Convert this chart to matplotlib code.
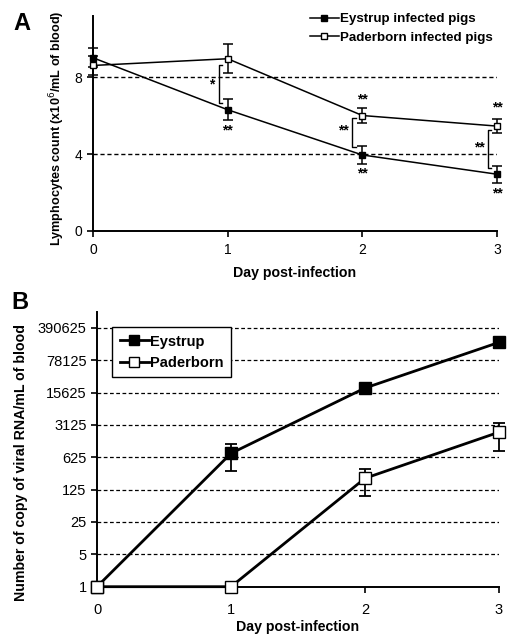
import matplotlib
matplotlib.use("Agg")
import matplotlib.pyplot as plt
from matplotlib.lines import Line2D
import numpy as np

plt.rcParams['font.family'] = ['Liberation Sans', 'DejaVu Sans']

# ---------------- data ----------------
days = [0, 1, 2, 3]

# Panel A: lymphocyte counts (x10^6/mL)
eystrup_lymph = [9.0, 6.3, 3.95, 2.95]
eystrup_lymph_err = [0.5, 0.55, 0.45, 0.45]
paderborn_lymph = [8.6, 8.95, 6.0, 5.45]
paderborn_lymph_err = [0.5, 0.75, 0.4, 0.35]
a_yticks = [0, 4, 8]

# significance annotations: (x, y, text)
sig_labels = [(0.88, 7.6, "*"), (1.0, 5.2, "**"), (2.0, 6.85, "**"), (1.86, 5.2, "**"),
              (2.0, 3.0, "**"), (3.0, 6.4, "**"), (2.87, 4.35, "**"), (3.0, 1.95, "**")]
# brackets: (x, y_top, y_bottom)
brackets = [(0.935, 8.6, 6.65), (1.925, 5.87, 4.36), (2.93, 5.25, 3.27)]

# Panel B: viral RNA copies / mL
eystrup_rna = [1, 760, 19600, 190000]
eystrup_rna_err = [0, 440, 4600, 47000]
paderborn_rna = [1, 1, 220, 2180]
paderborn_rna_err = [0, 0, 130, 1330]
b_yticks = [1, 5, 25, 125, 625, 3125, 15625, 78125, 390625]

# ---------------- figure ----------------
fig = plt.figure(figsize=(5.11, 6.36), dpi=100)

# ---- Panel A ----
axA = fig.add_axes([93/511, 1-231/636, (497-93)/511, (231-16)/636])
for vals, errs, fc in [(eystrup_lymph, eystrup_lymph_err, 'black'),
                       (paderborn_lymph, paderborn_lymph_err, 'white')]:
    eb = axA.errorbar(days, vals, yerr=errs, color='black', marker='s',
                      markersize=5, markerfacecolor=fc, lw=1.1, capsize=3.5, elinewidth=1.1,
                      capthick=1.1, zorder=3)
    for art in eb.lines[0:1] + tuple(eb.lines[1]) + tuple(eb.lines[2]):
        art.set_clip_on(False)
for y in [4, 8]:
    axA.axhline(y, color='black', ls=(0, (3, 2)), lw=1.0, zorder=1)
for x, y, t in sig_labels:
    axA.text(x, y, t, ha='center', va='center', fontsize=10, fontweight='bold')
for x, y1, y2 in brackets:
    d = 0.025
    axA.plot([x + d, x, x, x + d], [y1, y1, y2, y2], color='black', lw=1.0)
axA.set_xlim(0, 3)
axA.set_ylim(0, 11.17)
axA.set_xticks(days)
axA.set_yticks(a_yticks)
axA.tick_params(labelsize=10, length=4, width=1.2, direction='out')
axA.tick_params(axis='x', pad=5)
for s in ['top', 'right']:
    axA.spines[s].set_visible(False)
for s in ['left', 'bottom']:
    axA.spines[s].set_linewidth(1.4)
axA.set_xlabel("Day post-infection", fontsize=10.2, fontweight='bold', labelpad=6)
axA.set_ylabel("Lymphocytes count (x10$^{6}$/mL of blood)", fontsize=9.1, fontweight='bold',
               va='center')
axA.yaxis.set_label_coords(-0.089, 0.48)
hA = [Line2D([], [], color='black', marker='s', markersize=4.5, markerfacecolor='black', lw=1.1),
      Line2D([], [], color='black', marker='s', markersize=4.5, markerfacecolor='white', lw=1.1)]
axA.legend(hA, ["Eystrup infected pigs", "Paderborn infected pigs"], loc='upper right',
           bbox_to_anchor=(1.02, 1.07), frameon=False, prop={'weight': 'bold', 'size': 9.6},
           handlelength=2.2, handletextpad=0.1, labelspacing=0.45)
fig.text(22/511, 1-24/636, "A", fontsize=17, fontweight='bold', ha='center', va='center')

# ---- Panel B ----
axB = fig.add_axes([97/511, 1-586.7/636, (499-97)/511, (586.7-311.7)/636])
axB.set_yscale('log', base=5)
for y in b_yticks:
    axB.axhline(y, color='black', ls=(0, (3, 2)), lw=0.9, zorder=1)
axB.errorbar(days, eystrup_rna, yerr=eystrup_rna_err, color='black', marker='s',
             markersize=8, markerfacecolor='black', lw=2.0, capsize=4, elinewidth=1.3,
             capthick=1.3, zorder=3, clip_on=False)
axB.errorbar(days, paderborn_rna, yerr=paderborn_rna_err, color='black', marker='s',
             markersize=8, markerfacecolor='white', lw=2.0, capsize=4, elinewidth=1.3,
             capthick=1.3, zorder=3, clip_on=False)
axB.set_xlim(0, 3)
axB.set_ylim(1, 5 ** 8.5)
axB.set_xticks(days)
axB.set_yticks(b_yticks)
axB.set_yticklabels([str(v) for v in b_yticks])
axB.minorticks_off()
axB.tick_params(labelsize=10.5, length=4, width=1.2, direction='out')
axB.tick_params(axis='x', pad=8)
for s in ['top', 'right']:
    axB.spines[s].set_visible(False)
for s in ['left', 'bottom']:
    axB.spines[s].set_linewidth(1.4)
axB.set_xlabel("Day post-infection", fontsize=10.2, fontweight='bold', va='center')
axB.xaxis.set_label_coords(0.5, -0.148)
axB.set_ylabel("Number of copy of viral RNA/mL of blood", fontsize=10.2, fontweight='bold',
               va='center')
axB.yaxis.set_label_coords(-0.19, 0.45)
hB = [Line2D([], [], color='black', marker='s', markersize=7, markerfacecolor='black', lw=2.0),
      Line2D([], [], color='black', marker='s', markersize=7, markerfacecolor='white', lw=2.0)]
legB = axB.legend(hB, ["Eystrup", "Paderborn"], loc='upper left', bbox_to_anchor=(0.02, 0.97),
                  frameon=True, fancybox=False, prop={'weight': 'bold', 'size': 10.5},
                  handlelength=2.0, handletextpad=0.1, labelspacing=0.5, borderpad=0.5)
legB.get_frame().set_edgecolor('black')
legB.get_frame().set_linewidth(1.0)
legB.get_frame().set_alpha(1)
fig.text(20/511, 1-303/636, "B", fontsize=17, fontweight='bold', ha='center', va='center')

fig.savefig("out.png", dpi=100)
